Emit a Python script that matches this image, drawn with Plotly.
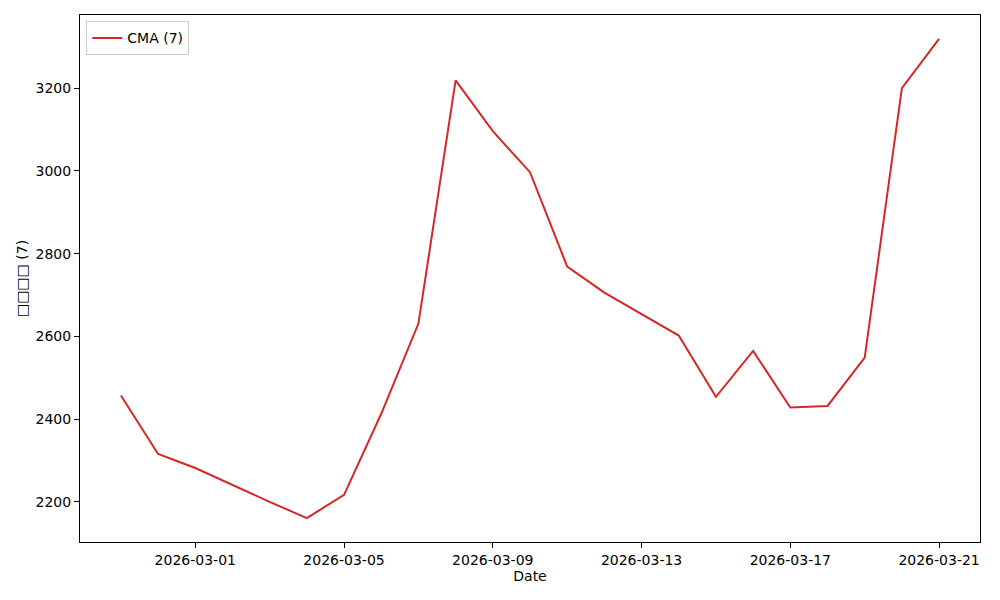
import plotly.graph_objects as go
import pandas as pd

dates = pd.date_range("2026-02-27", "2026-03-21", freq="D").strftime("%Y-%m-%d").tolist()
cma7 = [2457, 2316, 2282, 2240, 2200, 2161, 2217, 2413, 2631, 3219, 3096, 2997,
        2769, 2706, 2655, 2602, 2454, 2565, 2428, 2432, 2549, 3200, 3319]
series_name = "CMA (7)"
x_title = "Date"
y_title = "□□□□ (7)"
tick_dates = ["2026-03-01", "2026-03-05", "2026-03-09", "2026-03-13", "2026-03-17", "2026-03-21"]
y_ticks = [2200, 2400, 2600, 2800, 3000, 3200]

fig = go.Figure()
fig.add_trace(go.Scatter(x=dates, y=cma7, mode="lines", name=series_name,
                         line=dict(color="#d62728", width=2)))

start = pd.Timestamp(dates[0]); end = pd.Timestamp(dates[-1])
pad = (end - start) * 0.05
ymin, ymax = min(cma7), max(cma7)
ypad = (ymax - ymin) * 0.05

axis_common = dict(showline=True, linecolor="black", linewidth=1, mirror=True,
                   ticks="outside", ticklen=5, tickcolor="black", showgrid=False,
                   zeroline=False, automargin=False, tickfont=dict(size=14, color="black"))

fig.update_layout(
    width=1000, height=600,
    margin=dict(l=72, r=28, t=7, b=66),
    paper_bgcolor="white", plot_bgcolor="white",
    font=dict(family="DejaVu Sans", size=14, color="black"),
    showlegend=True,
    legend=dict(x=0.007, y=0.988, xanchor="left", yanchor="top",
                bordercolor="#cccccc", borderwidth=1, bgcolor="rgba(255,255,255,0.8)",
                font=dict(size=14)),
    xaxis=dict(range=[start - pad, end + pad], tickvals=tick_dates, ticktext=tick_dates,
               title=dict(text=x_title, standoff=4, font=dict(size=14)), **axis_common),
    yaxis=dict(range=[ymin - ypad, ymax + ypad], tickvals=y_ticks,
               title=dict(text=y_title, standoff=4, font=dict(size=14)), **axis_common),
)

fig.write_html("out.html")
